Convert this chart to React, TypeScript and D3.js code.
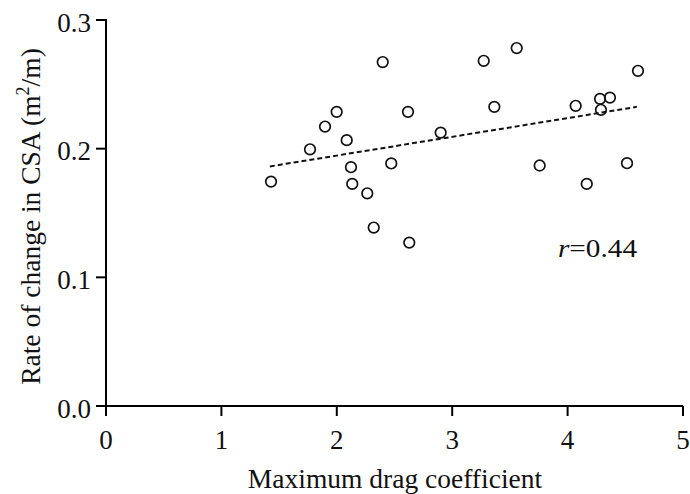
import React from "react";
import * as d3 from "d3";

const dragCoef = [1.43, 1.768, 1.898, 1.999, 2.086, 2.123, 2.134, 2.264, 2.32, 2.398, 2.472, 2.617, 2.628, 2.9, 3.273, 3.365, 3.559, 3.758, 4.07, 4.166, 4.281, 4.289, 4.367, 4.515, 4.61];
const csaRate = [0.1744, 0.1995, 0.2172, 0.2286, 0.2066, 0.1856, 0.1726, 0.1653, 0.1387, 0.2673, 0.1885, 0.2286, 0.127, 0.2125, 0.2683, 0.2325, 0.2782, 0.1869, 0.2333, 0.1726, 0.2387, 0.2302, 0.2397, 0.1887, 0.2605];
const trendX = [1.42, 4.6];
const trendY = [0.1862, 0.2325];
const xTicks = [0, 1, 2, 3, 4, 5];
const yTicks = [0.0, 0.1, 0.2, 0.3];
const xLabel = "Maximum drag coefficient";
const rText = "=0.44";

const FONT = "Liberation Serif, Times New Roman, DejaVu Serif, serif";

export default function App() {
  const W = 690, H = 494;
  const x = d3.scaleLinear().domain([0, 5]).range([106, 683]);
  const y = d3.scaleLinear().domain([0, 0.3]).range([406, 20]);
  const line = d3.line<number>().x((d) => x(trendX[d])).y((d) => y(trendY[d]));
  const ts = { fontFamily: FONT };
  return (
    <svg width={W} height={H} style={{ position: "absolute", left: 0, top: 0, background: "#fff", fontFamily: FONT }}>
      <rect width={W} height={H} fill="#fff" />
      <line x1={x(0)} x2={x(5)} y1={y(0)} y2={y(0)} stroke="#000" strokeWidth={2} />
      <line x1={x(0)} x2={x(0)} y1={y(0) + 1} y2={y(0.3) - 1} stroke="#000" strokeWidth={2} />
      {xTicks.map((t) => (
        <g key={"x" + t}>
          <line x1={x(t)} x2={x(t)} y1={y(0)} y2={y(0) + 10} stroke="#000" strokeWidth={2} />
          <text x={x(t)} y={448.5} textAnchor="middle" fontSize={27} fill="#111" style={ts}>
            {d3.format("d")(t)}
          </text>
        </g>
      ))}
      {yTicks.map((t) => (
        <g key={"y" + t}>
          <line x1={x(0) - 10} x2={x(0)} y1={y(t)} y2={y(t)} stroke="#000" strokeWidth={2} />
          <text x={91} y={y(t) + 11.5} textAnchor="end" fontSize={27} fill="#111" style={ts}>
            {d3.format(".1f")(t)}
          </text>
        </g>
      ))}
      <path d={line([0, 1]) || ""} stroke="#111" strokeWidth={2} strokeDasharray="5,3" fill="none" />
      {dragCoef.map((v, i) => (
        <circle key={i} cx={x(v)} cy={y(csaRate[i])} r={5.3} fill="none" stroke="#111" strokeWidth={1.7} />
      ))}
      <text x={558} y={257} fontSize={25} fill="#111" textLength={79} lengthAdjust="spacingAndGlyphs" style={ts}>
        <tspan fontStyle="italic">r</tspan>
        {rText}
      </text>
      <text x={395} y={488} textAnchor="middle" fontSize={27.5} fill="#111" style={ts}>
        {xLabel}
      </text>
      <text transform={`translate(40,216.5) rotate(-90)`} textAnchor="middle" fontSize={27.5} fill="#111" style={ts}>
        Rate of change in CSA (m
        <tspan fontSize={18} dy={-11}>2</tspan>
        <tspan dy={11}>/m)</tspan>
      </text>
    </svg>
  );
}
